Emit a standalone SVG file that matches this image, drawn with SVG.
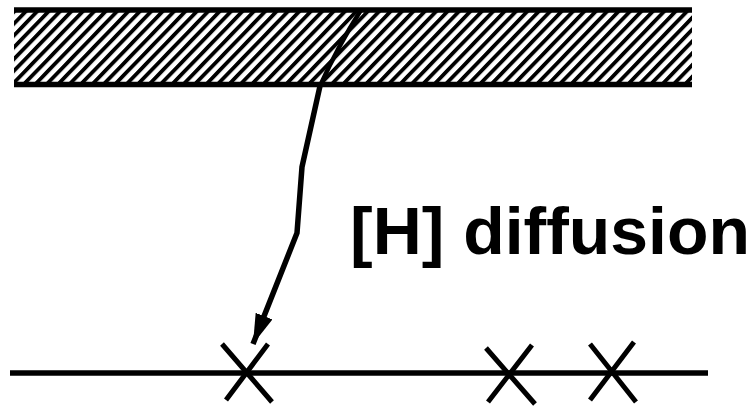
<svg xmlns="http://www.w3.org/2000/svg" width="756" height="406" viewBox="0 0 756 406">
<defs>
<pattern id="hatch" patternUnits="userSpaceOnUse" width="8.2" height="10" patternTransform="rotate(44)">
<rect x="0" y="0" width="3.8" height="10" fill="#000"/>
</pattern>
<marker id="ah" markerUnits="userSpaceOnUse" markerWidth="32" markerHeight="20" refX="30" refY="9" orient="auto">
<path d="M0,0 L30,9 L0,18 Z" fill="#000"/>
</marker>
<style>
.ln{stroke:#000;stroke-width:5.5;fill:none}
.x{stroke:#000;stroke-width:5;fill:none}
.lbl{font-family:"Liberation Sans",Arial,sans-serif;font-weight:bold;font-size:66px;fill:#000}
</style>
</defs>
<rect width="756" height="406" fill="#fff"/>
<g id="layer">
<rect x="14" y="10" width="678" height="74" fill="url(#hatch)"/>
<line class="ln" x1="14" y1="10" x2="692" y2="10"/>
<line class="ln" x1="14" y1="84.5" x2="692" y2="84.5"/>
</g>
<g id="plane">
<line class="ln" x1="10" y1="373" x2="708" y2="373"/>
</g>
<g id="trap1"><path class="x" d="M222,344 L272,402 M268,344 L226,400"/></g>
<g id="trap2"><path class="x" d="M486,348 L535,404 M532,345 L488,402"/></g>
<g id="trap3"><path class="x" d="M590,344 L636,402 M634,342 L590,400"/></g>
<g id="connectors">
<path d="M361,10 Q338,46 320,86" stroke="#000" stroke-width="4.5" fill="none"/>
<path d="M320,86 L302,167 L297,233 L253,344" stroke="#000" stroke-width="5.5" fill="none" stroke-linejoin="miter" marker-end="url(#ah)"/>
</g>
<g id="label">
<text class="lbl" x="350" y="254" textLength="400" lengthAdjust="spacingAndGlyphs">[H] diffusion</text>
</g>
</svg>
